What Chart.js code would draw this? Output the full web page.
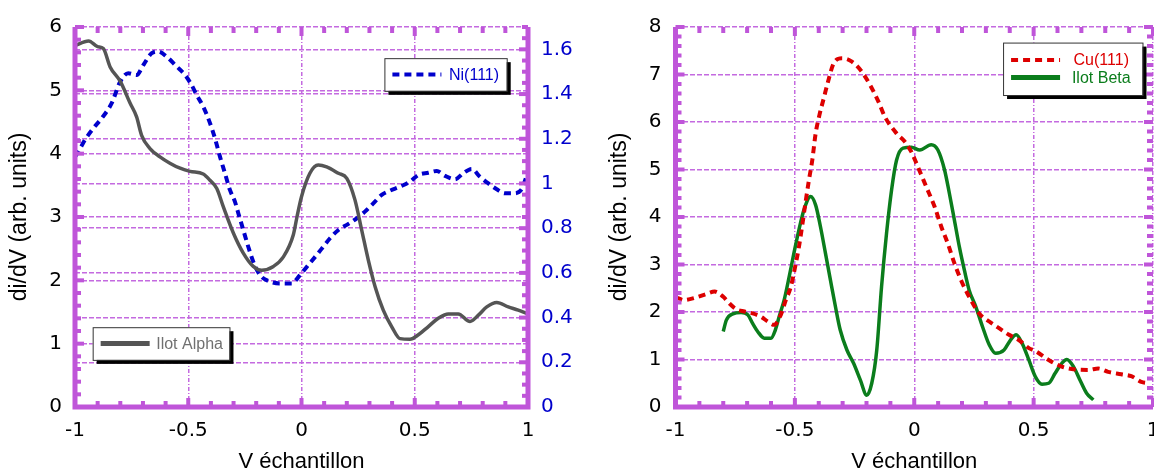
<!DOCTYPE html>
<html lang="fr">
<head>
  <meta charset="UTF-8">
  <title>Spectres di/dV</title>
  <script src="https://cdn.jsdelivr.net/npm/chart.js"></script>
  <style>
    html, body {
      margin: 0;
      background: #ffffff;
      overflow: hidden;
      width: 1154px;
      height: 470px;
    }
    .panneau {
      position: absolute;
      top: 0;
    }
    #gauche { left: 0; }
    #droite { left: 600px; }
  </style>
</head>
<body>

<canvas id="gauche" class="panneau" width="600" height="470"></canvas>
<canvas id="droite" class="panneau" width="570" height="470"></canvas>

<script>
  // graduations
  const ticksV = [-1, -0.5, 0, 0.5, 1];
  const ticksGauche = [0, 1, 2, 3, 4, 5, 6];
  const ticksNi = [0, 0.2, 0.4, 0.6, 0.8, 1, 1.2, 1.4, 1.6];
  const ticksDroite = [0, 1, 2, 3, 4, 5, 6, 7, 8];

  // Ilot Alpha (axe de gauche)
  const alphaV = [-1.0, -0.99, -0.94, -0.90, -0.875, -0.845, -0.80, -0.757, -0.728, -0.706, -0.669, -0.625, -0.581, -0.536,
    -0.492, -0.434, -0.404, -0.374, -0.345, -0.30, -0.257, -0.213, -0.176, -0.124, -0.08, -0.036, -0.02, 0.0, 0.037, 0.074,
    0.111, 0.163, 0.20, 0.236, 0.266, 0.295, 0.325, 0.361, 0.398, 0.435, 0.479, 0.516, 0.56, 0.604, 0.648, 0.692, 0.744,
    0.781, 0.818, 0.862, 0.913, 0.957, 1.0];
  const alphaY = [5.70, 5.72, 5.78, 5.69, 5.66, 5.37, 5.14, 4.80, 4.58, 4.29, 4.08, 3.95, 3.85, 3.77,
    3.72, 3.68, 3.58, 3.45, 3.16, 2.74, 2.43, 2.22, 2.16, 2.22, 2.37, 2.72, 3.0, 3.32, 3.69, 3.82,
    3.79, 3.69, 3.61, 3.27, 2.79, 2.32, 1.90, 1.53, 1.27, 1.08, 1.07, 1.14, 1.27, 1.40, 1.47, 1.47, 1.35,
    1.45, 1.58, 1.65, 1.58, 1.53, 1.47];

  // Ni(111) (axe de droite)
  const niV = [-1.0, -0.985, -0.956, -0.919, -0.882, -0.838, -0.80, -0.765, -0.728, -0.698, -0.661, -0.632, -0.595, -0.551,
    -0.514, -0.485, -0.463, -0.434, -0.404, -0.382, -0.36, -0.338, -0.316, -0.294, -0.279, -0.257, -0.235, -0.213, -0.183,
    -0.139, -0.095, -0.043, -0.007, 0.03, 0.067, 0.096, 0.126, 0.163, 0.207, 0.244, 0.28, 0.317, 0.354, 0.391, 0.435, 0.479,
    0.516, 0.56, 0.597, 0.634, 0.678, 0.714, 0.751, 0.788, 0.825, 0.862, 0.898, 0.935, 0.972, 0.99];
  const niY = [1.12, 1.142, 1.195, 1.247, 1.292, 1.359, 1.456, 1.493, 1.485, 1.53, 1.583, 1.59, 1.567, 1.523,
    1.485, 1.44, 1.396, 1.344, 1.27, 1.202, 1.12, 1.046, 0.971, 0.919, 0.867, 0.792, 0.717, 0.65, 0.59,
    0.561, 0.553, 0.553, 0.59, 0.635, 0.68, 0.717, 0.755, 0.792, 0.819, 0.844, 0.874, 0.911, 0.949, 0.968, 0.986, 1.008,
    1.038, 1.048, 1.056, 1.034, 1.019, 1.046, 1.065, 1.03, 1.0, 0.974, 0.956, 0.956, 0.974, 1.023];

  // Cu(111)
  const cuV = [-1.0, -0.988, -0.968, -0.912, -0.87, -0.836, -0.80, -0.774, -0.746, -0.711, -0.677, -0.642, -0.614, -0.587,
    -0.559, -0.538, -0.517, -0.499, -0.483, -0.469, -0.455, -0.441, -0.427, -0.413, -0.397, -0.379, -0.361, -0.337, -0.303,
    -0.261, -0.22, -0.185, -0.15, -0.123, -0.074, -0.04, -0.012, 0.009, 0.05, 0.085, 0.113, 0.14, 0.168, 0.196, 0.23, 0.272,
    0.314, 0.355, 0.397, 0.438, 0.48, 0.507, 0.563, 0.618, 0.673, 0.729, 0.771, 0.812, 0.867, 0.909, 0.951, 0.985];
  const cuY = [2.30, 2.29, 2.25, 2.31, 2.38, 2.43, 2.32, 2.18, 2.06, 2.01, 1.97, 1.90, 1.80, 1.73,
    1.94, 2.25, 2.53, 2.95, 3.37, 3.83, 4.32, 4.78, 5.20, 5.76, 6.15, 6.50, 6.85, 7.24, 7.34,
    7.27, 7.06, 6.78, 6.43, 6.11, 5.76, 5.59, 5.37, 5.13, 4.64, 4.22, 3.80, 3.45, 3.03, 2.67, 2.32, 1.97,
    1.80, 1.66, 1.52, 1.41, 1.24, 1.18, 0.99, 0.85, 0.79, 0.78, 0.81, 0.74, 0.69, 0.65, 0.53, 0.50];

  // Ilot Beta
  const betaV = [-0.80, -0.787, -0.76, -0.725, -0.697, -0.677, -0.656, -0.628, -0.60, -0.582, -0.566, -0.545, -0.524, -0.504,
    -0.483, -0.462, -0.434, -0.413, -0.393, -0.372, -0.351, -0.33, -0.31, -0.282, -0.254, -0.226, -0.199, -0.178, -0.157,
    -0.137, -0.116, -0.095, -0.074, -0.047, -0.012, 0.023, 0.071, 0.099, 0.127, 0.147, 0.168, 0.189, 0.21, 0.23, 0.258,
    0.286, 0.314, 0.341, 0.376, 0.403, 0.427, 0.452, 0.48, 0.507, 0.535, 0.563, 0.59, 0.618, 0.639, 0.667, 0.694, 0.722, 0.75];
  const betaY = [1.59, 1.83, 1.96, 1.99, 1.94, 1.76, 1.59, 1.45, 1.45, 1.62, 1.90, 2.25, 2.74, 3.24,
    3.73, 4.15, 4.43, 4.25, 3.80, 3.24, 2.67, 2.11, 1.62, 1.20, 0.92, 0.57, 0.25, 0.50, 1.20,
    2.53, 3.66, 4.57, 5.20, 5.45, 5.47, 5.41, 5.52, 5.41, 4.99, 4.50, 3.94, 3.37, 2.88, 2.46, 2.11,
    1.69, 1.31, 1.13, 1.20, 1.41, 1.52, 1.34, 0.99, 0.64, 0.48, 0.50, 0.71, 0.92, 1.00, 0.85, 0.57, 0.29, 0.15];

  const VIOLET = '#bf55d9';
  const GRILLE = '#c46ae0';
  const POLICE = "'Liberation Sans', Arial, sans-serif";
  const POLICE_TICKS = "'DejaVu Sans', sans-serif";

  Chart.defaults.font.family = POLICE;
  Chart.defaults.color = '#000';

  function pts(xs, ys) {
    return xs.map((x, i) => ({ x: x, y: ys[i] }));
  }

  function fixer(valeurs) {
    return scale => { scale.ticks = valeurs.map(v => ({ value: v })); };
  }

  const texte = v => String(v);

  // cadre epais + petites graduations vers l'interieur
  const cadre = {
    id: 'cadre',
    afterDatasetsDraw(chart, args, opts) {
      const { ctx, chartArea: a, scales } = chart;
      ctx.save();
      ctx.fillStyle = VIOLET;
      opts.cotes.forEach(c => {
        const s = scales[c.axe];
        const n = Math.round((s.max - s.min) / c.mineur);
        for (let i = 0; i <= n; i++) {
          const v = s.min + i * c.mineur;
          const maj = Math.abs(v / c.majeur - Math.round(v / c.majeur)) < 1e-6;
          const len = maj ? 9 : 6;
          const p = s.getPixelForValue(v);
          if (c.bord === 'bottom') ctx.fillRect(p - 2, a.bottom - len, 4, len);
          if (c.bord === 'top') ctx.fillRect(p - 2, a.top, 4, len);
          if (c.bord === 'left') ctx.fillRect(a.left, p - 2, len, 4);
          if (c.bord === 'right') ctx.fillRect(a.right - len, p - 2, len, 4);
        }
      });
      ctx.strokeStyle = VIOLET;
      ctx.lineWidth = 5;
      ctx.beginPath();
      ctx.moveTo(a.left, a.top);
      ctx.lineTo(a.left, a.bottom);
      ctx.lineTo(a.right, a.bottom);
      if (opts.droitPlein) ctx.lineTo(a.right, a.top);
      ctx.stroke();
      ctx.restore();
    }
  };

  // boites de legende avec ombre
  const legende = {
    id: 'legende',
    afterDraw(chart, args, opts) {
      const { ctx, chartArea: a } = chart;
      const W = a.right - a.left, H = a.bottom - a.top;
      ctx.save();
      opts.boites.forEach(b => {
        const x0 = a.left + b.g * W, y0 = a.top + b.h * H;
        const w = (b.d - b.g) * W, h = (b.b - b.h) * H;
        ctx.fillStyle = '#000';
        ctx.fillRect(x0 + 4, y0 + 4, w, h);
        ctx.fillStyle = '#fff';
        ctx.fillRect(x0, y0, w, h);
        ctx.strokeStyle = '#333';
        ctx.lineWidth = 1;
        ctx.strokeRect(x0 + 0.5, y0 + 0.5, w, h);
        b.items.forEach((it, i) => {
          const ds = chart.data.datasets[it.ds];
          const y = y0 + h * (i + 1) / (b.items.length + 1);
          ctx.beginPath();
          ctx.setLineDash(ds.borderDash || []);
          ctx.strokeStyle = ds.borderColor;
          ctx.lineWidth = ds.borderDash ? 4 : 5;
          ctx.moveTo(x0 + 8, y);
          ctx.lineTo(x0 + 57, y);
          ctx.stroke();
          ctx.setLineDash([]);
          ctx.fillStyle = it.couleur;
          ctx.font = '16px ' + POLICE;
          ctx.textAlign = 'center';
          ctx.textBaseline = 'middle';
          ctx.fillText(ds.label, (x0 + 57 + x0 + w) / 2, y + 1);
        });
      });
      ctx.restore();
    }
  };

  function axeX() {
    return {
      type: 'linear', min: -1, max: 1,
      afterBuildTicks: fixer(ticksV),
      afterFit: s => { s.height = 63; s.paddingLeft = 0; s.paddingRight = 0; },
      ticks: { font: { size: 20, family: POLICE_TICKS }, padding: 12, color: '#000', maxRotation: 0, callback: texte },
      grid: { color: GRILLE, lineWidth: 1.5, drawTicks: false },
      border: { display: false, dash: [4, 2, 1, 2] },
      title: { display: true, text: 'V échantillon', font: { size: 22 }, color: '#000', padding: { top: 0, bottom: -5 } }
    };
  }

  function axeY(valeurs, largeur, pad) {
    return {
      type: 'linear', position: 'left',
      min: valeurs[0], max: valeurs[valeurs.length - 1],
      afterBuildTicks: fixer(valeurs),
      afterFit: s => { s.width = largeur; },
      ticks: { font: { size: 20, family: POLICE_TICKS }, padding: pad, color: '#000', callback: texte },
      grid: { color: GRILLE, lineWidth: 1.5, drawTicks: false },
      border: { display: false, dash: [5, 2] },
      title: { display: true, text: 'di/dV (arb. units)', font: { size: 23 }, color: '#000', padding: { top: 6 } }
    };
  }

  const communs = {
    responsive: false,
    animation: false,
    events: [],
    elements: { point: { radius: 0 }, line: { cubicInterpolationMode: 'monotone' } }
  };

  new Chart(document.getElementById('gauche'), {
    type: 'line',
    data: {
      datasets: [
        { label: 'Ilot Alpha', data: pts(alphaV, alphaY), yAxisID: 'y', borderColor: '#555555', borderWidth: 3.5 },
        { label: 'Ni(111)', data: pts(niV, niY), yAxisID: 'y2', borderColor: '#0000cc', borderWidth: 4, borderDash: [7, 5] }
      ]
    },
    options: Object.assign({}, communs, {
      layout: { padding: { top: 27 } },
      plugins: {
        legend: { display: false },
        tooltip: { enabled: false },
        cadre: {
          droitPlein: true,
          cotes: [
            { axe: 'x', bord: 'bottom', mineur: 0.1, majeur: 0.5 },
            { axe: 'x', bord: 'top', mineur: 0.1, majeur: 0.5 },
            { axe: 'y', bord: 'left', mineur: 0.2, majeur: 1 },
            { axe: 'y2', bord: 'right', mineur: 0.05, majeur: 0.2 }
          ]
        },
        legende: {
          boites: [
            { g: 0.683, h: 0.082, d: 0.953, b: 0.168, items: [{ ds: 1, couleur: '#0000cc' }] },
            { g: 0.039, h: 0.790, d: 0.341, b: 0.876, items: [{ ds: 0, couleur: '#707070' }] }
          ]
        }
      },
      scales: {
        x: axeX(),
        y: axeY(ticksGauche, 75, 13),
        y2: {
          type: 'linear', position: 'right',
          min: 0, max: 1.7,
          afterBuildTicks: fixer(ticksNi),
          afterFit: s => { s.width = 72; },
          ticks: { font: { size: 20, family: POLICE_TICKS }, padding: 13, color: '#0000cc', callback: texte },
          grid: { color: GRILLE, lineWidth: 1.5, drawTicks: false },
          border: { display: false, dash: [5, 2] }
        }
      }
    }),
    plugins: [cadre, legende]
  });

  new Chart(document.getElementById('droite'), {
    type: 'line',
    data: {
      datasets: [
        { label: 'Cu(111)', data: pts(cuV, cuY), borderColor: '#dd0000', borderWidth: 4, borderDash: [7, 5] },
        { label: 'Ilot Beta', data: pts(betaV, betaY), borderColor: '#0b7d1c', borderWidth: 3.5 }
      ]
    },
    options: Object.assign({}, communs, {
      layout: { padding: { top: 27, right: 17 } },
      plugins: {
        legend: { display: false },
        tooltip: { enabled: false },
        cadre: {
          droitPlein: false,
          cotes: [
            { axe: 'x', bord: 'bottom', mineur: 0.1, majeur: 0.5 },
            { axe: 'x', bord: 'top', mineur: 0.1, majeur: 0.5 },
            { axe: 'y', bord: 'left', mineur: 0.2, majeur: 1 },
            { axe: 'y', bord: 'right', mineur: 0.2, majeur: 1 }
          ]
        },
        legende: {
          boites: [
            { g: 0.686, h: 0.041, d: 0.978, b: 0.179, items: [{ ds: 0, couleur: '#dd0000' }, { ds: 1, couleur: '#0b7d1c' }] }
          ]
        }
      },
      scales: {
        x: axeX(),
        y: axeY(ticksDroite, 75.5, 14)
      }
    }),
    plugins: [cadre, legende]
  });
</script>

</body>
</html>
